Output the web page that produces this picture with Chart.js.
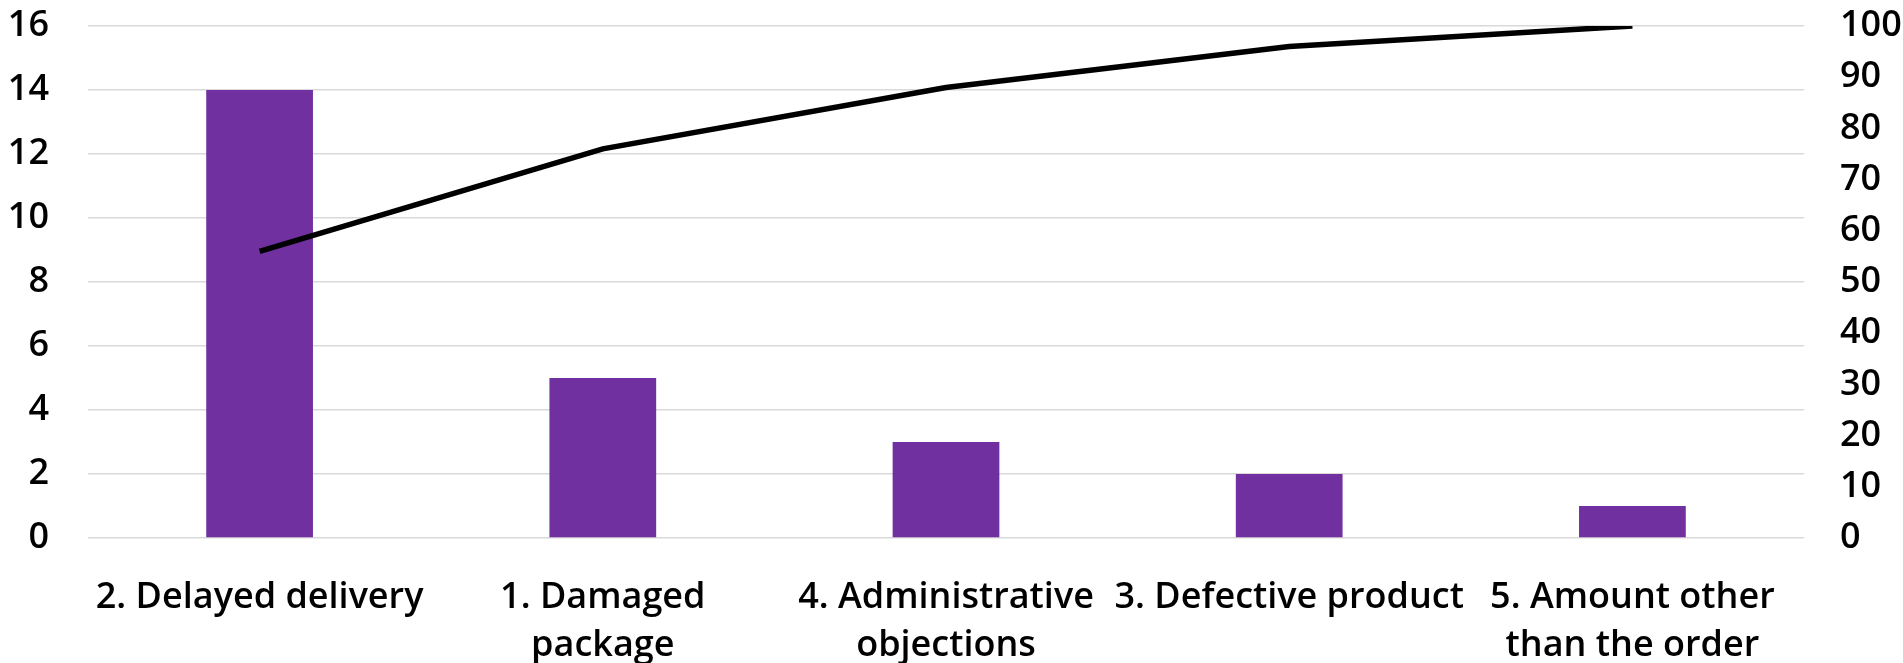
<!DOCTYPE html>
<html>
<head>
<meta charset="utf-8">
<script src="https://cdn.jsdelivr.net/npm/chart.js@4/dist/chart.umd.min.js"></script>
<style>
  html, body { margin: 0; padding: 0; background: #ffffff; }
  #wrap { width: 1903px; height: 663px; position: relative; }
</style>
</head>
<body>
<div id="wrap"><canvas id="pareto"></canvas></div>
<script>
// Complaint causes, sorted by frequency
const categories = [
  '2. Delayed delivery',
  ['1. Damaged', 'package'],
  ['4. Administrative', 'objections'],
  '3. Defective product',
  ['5. Amount other', 'than the order']
];
const counts = [14, 5, 3, 2, 1];
// Cumulative share of all complaints, in percent
const cumulativePct = [56, 76, 88, 96, 100];
const countTicks = [0, 2, 4, 6, 8, 10, 12, 14, 16];
const pctTicks = [0, 10, 20, 30, 40, 50, 60, 70, 80, 90, 100];

const FONT = { family: '"Open Sans", "Noto Sans", sans-serif', size: 36, weight: '600', lineHeight: 1.32 };

// Keep the plot area fixed: no extra room for overhanging tick labels
function noOverhang(s) {
  s.paddingTop = 0; s.paddingBottom = 0; s.paddingLeft = 0; s.paddingRight = 0;
}

new Chart(document.getElementById('pareto'), {
  data: {
    labels: categories,
    datasets: [
      {
        type: 'line',
        data: cumulativePct,
        yAxisID: 'yPct',
        borderColor: '#000000',
        borderWidth: 5.5,
        pointRadius: 0,
        tension: 0,
        fill: false,
        order: 0
      },
      {
        type: 'bar',
        data: counts,
        yAxisID: 'yCount',
        backgroundColor: '#7030A0',
        borderWidth: 0,
        categoryPercentage: 1,
        barPercentage: 0.311,
        order: 1
      }
    ]
  },
  options: {
    responsive: true,
    maintainAspectRatio: false,
    animation: false,
    layout: { padding: { top: 26, right: 0, bottom: 0, left: 0 } },
    plugins: { legend: { display: false }, tooltip: { enabled: false } },
    scales: {
      x: {
        grid: { display: false },
        border: { display: false },
        ticks: { color: '#000000', font: FONT, padding: 28, maxRotation: 0, autoSkip: false },
        afterFit: (s) => { s.height = 125; noOverhang(s); }
      },
      yCount: {
        position: 'left',
        min: 0,
        max: 16,
        afterBuildTicks: (s) => { s.ticks = countTicks.map(v => ({ value: v })); },
        grid: { color: '#d9d9d9', lineWidth: 1.5, drawTicks: false },
        border: { display: false },
        ticks: { color: '#000000', font: FONT, padding: 39, autoSkip: false },
        afterFit: (s) => { s.width = 88; noOverhang(s); }
      },
      yPct: {
        position: 'right',
        min: 0,
        max: 100,
        afterBuildTicks: (s) => { s.ticks = pctTicks.map(v => ({ value: v })); },
        grid: { display: false, drawTicks: false },
        border: { display: false },
        ticks: { color: '#000000', font: FONT, padding: 36, autoSkip: false },
        afterFit: (s) => { s.width = 99; noOverhang(s); }
      }
    }
  }
});
</script>
</body>
</html>
